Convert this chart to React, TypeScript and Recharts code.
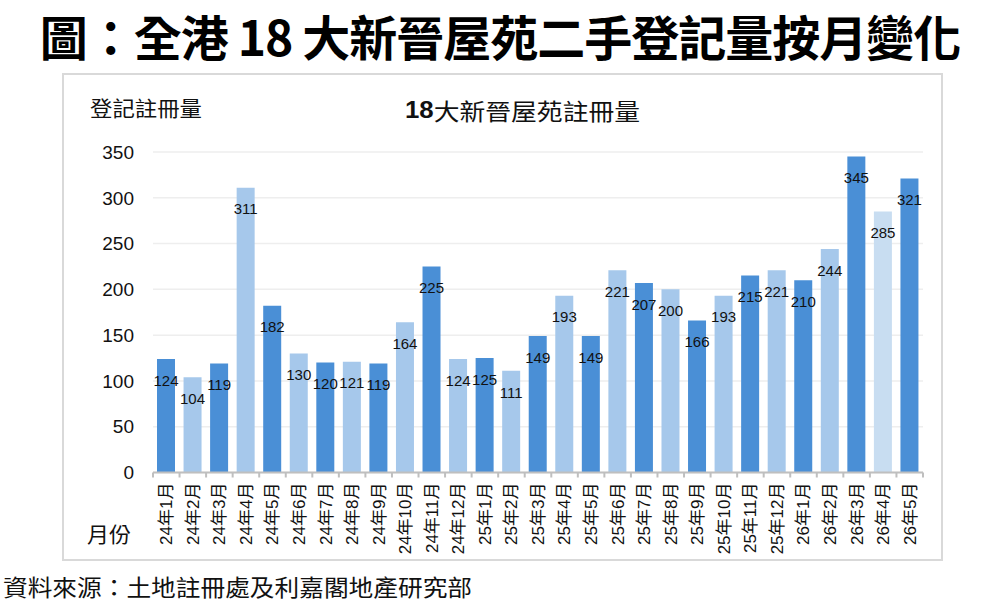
import React from 'react';
import { BarChart, Bar, XAxis, YAxis, CartesianGrid, Cell, LabelList } from 'recharts';

const months = [
  '24年1月', '24年2月', '24年3月', '24年4月', '24年5月', '24年6月', '24年7月', '24年8月', '24年9月', '24年10月', '24年11月', '24年12月',
  '25年1月', '25年2月', '25年3月', '25年4月', '25年5月', '25年6月', '25年7月', '25年8月', '25年9月', '25年10月', '25年11月', '25年12月',
  '26年1月', '26年2月', '26年3月', '26年4月', '26年5月',
];
const counts = [124, 104, 119, 311, 182, 130, 120, 121, 119, 164, 225, 124, 125, 111, 149, 193, 149, 221, 207, 200, 166, 193, 215, 221, 210, 244, 345, 285, 321];
const yTicks = [0, 50, 100, 150, 200, 250, 300, 350];

const data = months.map((month, i) => ({ month, count: counts[i] }));

const DARK = '#4a8fd6';
const LIGHT = '#a6c8eb';
const PALE = '#c8ddf1';
const CJK = '"Noto Sans CJK TC", "Noto Sans CJK SC", sans-serif';
const LATIN = '"Liberation Sans", Arial, sans-serif';

const W = 1006;
const H = 610;
const M_LEFT = 153;
const M_RIGHT = 83;
const M_TOP = 152;
const PLOT_BOTTOM = 472.5;
const TICK_MARGIN = 10;
const BAND = (W - M_LEFT - M_RIGHT) / months.length;

const colorFor = (i: number) => (i === 27 ? PALE : i % 2 === 0 ? DARK : LIGHT);

const MonthTick = (props: any) => {
  const { x, y, payload, index } = props;
  const axisY = y - TICK_MARGIN;
  const left = x - BAND / 2;
  const right = x + BAND / 2;
  return (
    <g>
      <line x1={left} x2={left} y1={axisY} y2={axisY + 5} stroke="#bfbfbf" strokeWidth={2} />
      {index === months.length - 1 && (
        <line x1={right} x2={right} y1={axisY} y2={axisY + 5} stroke="#bfbfbf" strokeWidth={2} />
      )}
      <text
        x={x}
        y={y}
        transform={`rotate(-90, ${x}, ${y})`}
        textAnchor="end"
        dy="0.35em"
        fontSize={17}
        fontFamily={`${LATIN}, ${CJK}`}
        fill="#111"
      >
        {payload.value}
      </text>
    </g>
  );
};

export default function App() {
  return (
    <div style={{ position: 'absolute', left: 0, top: 0, width: W, height: H, background: '#fff', overflow: 'hidden' }}>
      <div
        style={{
          position: 'absolute', left: 62, top: 73, width: 877, height: 484,
          border: '2px solid #d9d9d9', background: '#fff',
        }}
      />
      <div style={{ position: 'absolute', left: 0, top: 0 }}>
        <BarChart width={W} height={H} data={data} margin={{ top: M_TOP, right: M_RIGHT, bottom: 0, left: 0 }}>
          <CartesianGrid horizontal vertical={false} stroke="#eeeeee" strokeWidth={1.5} />
          <XAxis
            dataKey="month"
            height={H - PLOT_BOTTOM}
            interval={0}
            tick={<MonthTick />}
            tickLine={false}
            tickSize={0}
            tickMargin={TICK_MARGIN}
            axisLine={{ stroke: '#bfbfbf', strokeWidth: 2 }}
          />
          <YAxis
            domain={[0, 350]}
            ticks={yTicks}
            width={M_LEFT}
            axisLine={false}
            tickLine={false}
            tickSize={0}
            tickMargin={19}
            tick={{ fill: '#111', fontSize: 19, fontFamily: LATIN }}
          />
          <Bar dataKey="count" barSize={18} isAnimationActive={false}>
            {data.map((_, i) => (
              <Cell key={i} fill={colorFor(i)} />
            ))}
            <LabelList
              dataKey="count"
              position="insideTop"
              offset={16}
              fill="#111"
              stroke="none"
              fontSize={15}
              fontFamily={LATIN}
            />
          </Bar>
        </BarChart>
      </div>
      <svg width={W} height={H} style={{ position: 'absolute', left: 0, top: 0, pointerEvents: 'none' }}>
        <text
          x={500}
          y={56}
          textAnchor="middle"
          fontSize={48}
          fontWeight={700}
          letterSpacing={-1}
          fontFamily={CJK}
          fill="#000"
        >
          圖：全港 18 大新晉屋苑二手登記量按月變化
        </text>
        <text x={90} y={107} dominantBaseline="central" fontSize={21} fontFamily={CJK} textLength={112} lengthAdjust="spacingAndGlyphs" fill="#111">
          登記註冊量
        </text>
        <text x={405} y={110} dominantBaseline="central" fontSize={23} fontFamily={CJK} textLength={235} lengthAdjust="spacingAndGlyphs" fill="#111">
          <tspan fontFamily={LATIN} fontWeight={700}>18</tspan>大新晉屋苑註冊量
        </text>
        <text x={87} y={533} dominantBaseline="central" fontSize={21} fontFamily={CJK} textLength={44} lengthAdjust="spacingAndGlyphs" fill="#111">
          月份
        </text>
        <text x={3} y={586} dominantBaseline="central" fontSize={23} fontFamily={CJK} textLength={469} lengthAdjust="spacingAndGlyphs" fill="#111">
          資料來源：土地註冊處及利嘉閣地產研究部
        </text>
      </svg>
    </div>
  );
}
